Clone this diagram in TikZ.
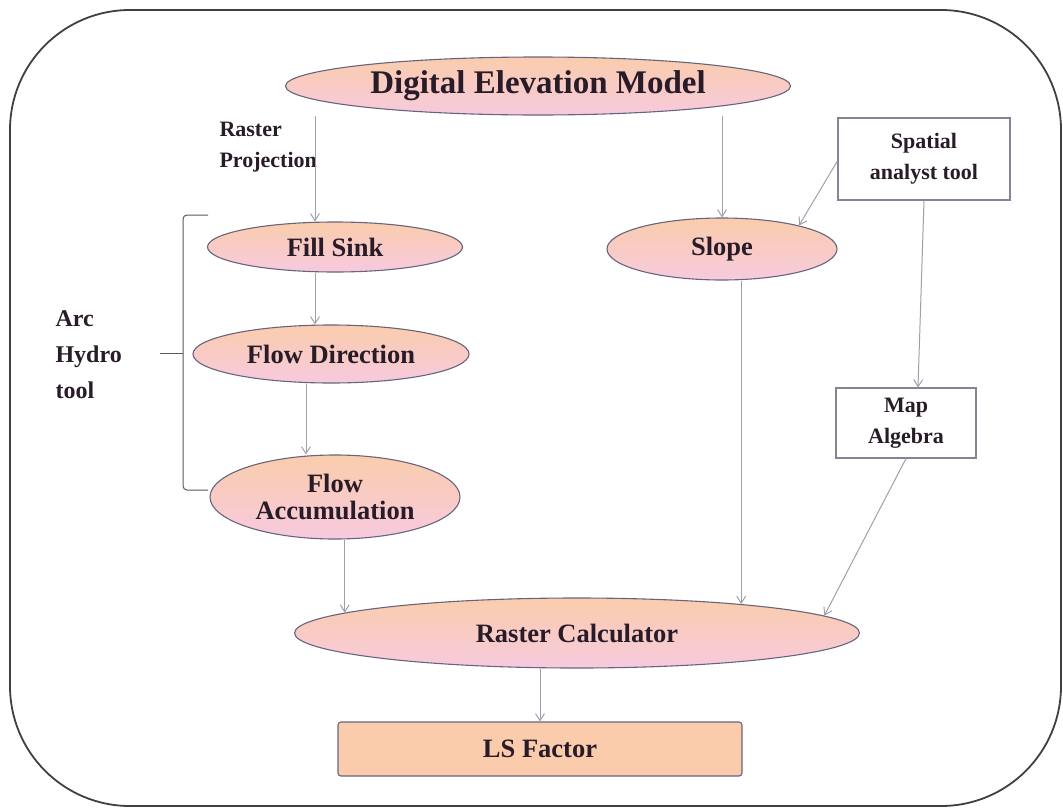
\documentclass[tikz,border=0pt]{standalone}
\usepackage{fontspec}
\setmainfont{Liberation Serif}
\usetikzlibrary{arrows.meta,shapes.geometric,positioning}

\definecolor{peach}{RGB}{250,204,172}
\definecolor{pinkish}{RGB}{247,202,222}
\definecolor{ovalline}{RGB}{105,100,125}
\definecolor{linkgray}{RGB}{160,160,172}
\definecolor{inkdark}{RGB}{40,28,40}
\newcommand\ovalfont{\bfseries\fontsize{26.5}{31}\selectfont}
\newcommand\titlefont{\bfseries\fontsize{33}{36}\selectfont}
\newcommand\notefont{\bfseries\fontsize{22}{31}\selectfont}

\begin{document}
\begin{tikzpicture}[x=1pt,y=-1pt,>={Straight Barb[length=7pt,width=9pt]},
  oval/.style={ellipse,draw=ovalline,line width=1.1pt,top color=peach,bottom color=pinkish,
    inner sep=0pt,font=\ovalfont,text=inkdark,align=center},
  toolbox/.style={rectangle,draw=ovalline!80,line width=1.1pt,fill=white,inner sep=0pt,
    font=\notefont,text=inkdark,align=center},
  link/.style={->,draw=linkgray,line width=1pt},
  note/.style={font=\notefont,text=inkdark,align=left}]
\useasboundingbox (0,0) rectangle (1063,809);
\draw[line width=1.8pt,black!75,rounded corners=120pt] (10,10) rectangle (1061,806);

% main chain
\node[oval,font=\titlefont,minimum width=505,minimum height=58,top color=peach,bottom color=pinkish] (dem) at (538,86) {Digital Elevation Model};
\node[oval,minimum width=255,minimum height=50] (fill) at (335,247) {Fill Sink};
\node[oval,minimum width=276,minimum height=58] (fdir) at (331,354) {Flow Direction};
\node[oval,minimum width=250,minimum height=84] (facc) at (335,497) {Flow\\[-4pt]Accumulation};
\node[oval,minimum width=230,minimum height=62] (slope) at (722,249) {Slope};
\node[oval,minimum width=565,minimum height=70] (calc) at (577,633) {Raster Calculator};
\node[rectangle,rounded corners=3pt,draw=ovalline,line width=1.1pt,fill=peach,font=\ovalfont,text=inkdark,
  minimum width=404,minimum height=54] (ls) at (540,749) {LS Factor};

% tool boxes
\node[toolbox,minimum width=172,minimum height=82] (spatial) at (924,159) {Spatial\\analyst tool};
\node[toolbox,minimum width=140,minimum height=70] (mapalg) at (906,423) {Map\\Algebra};

% side notes
\node[note,anchor=west] (proj) at (216,147) {Raster\\Projection};
\node[note,anchor=west,font=\bfseries\fontsize{24}{36}\selectfont] (arc) at (52,355) {Arc\\Hydro\\tool};
\draw[black!65,line width=1pt,rounded corners=4pt] (208,215) -- (183,215) -- (183,490) -- (208,490);
\draw[black!65,line width=1pt] (160,353) -- (183,353);

% connectors
\draw[link] (dem.south -| 315,0) -- (fill.north -| 315,0);
\draw[link] (dem.south -| slope.north) -- (slope.north);
\draw[link] (fill.south -| 315,0) -- (fdir.north -| 315,0);
\draw[link] (fdir.south -| 306,0) -- (facc.north -| 306,0);
\draw[link] (facc.south -| calc.175) -- (calc.175);
\draw[link] (slope.south -| calc.10) -- (calc.10);
\draw[link] (spatial.west) ++(0,2) -- (slope.17);
\draw[link] (spatial.south) -- ([xshift=12pt]mapalg.north);
\draw[link] (mapalg.south) -- (calc.4);
\draw[link] (calc.south -| ls.north) -- (ls.north);
\end{tikzpicture}
\end{document}
